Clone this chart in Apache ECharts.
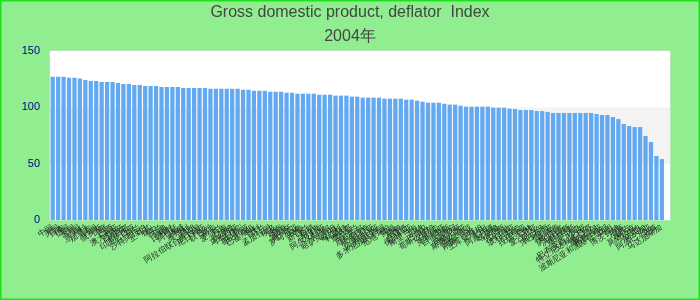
<!DOCTYPE html>
<html>
<head>
<meta charset="utf-8">
<script src="https://cdn.jsdelivr.net/npm/echarts@6/dist/echarts.min.js"></script>
<style>html,body{margin:0;padding:0;background:#90ee90;}#c{width:700px;height:300px;}</style>
</head>
<body>
<div id="c"></div>
<script>
var titleText = 'Gross domestic product, deflator  Index\n2004年';
var countries = ['中国','美国','日本','德国','英国','法国','意大利','加拿大','韩国','俄罗斯',
'印度','巴西','澳大利亚','西班牙','墨西哥','印度尼西亚','荷兰','沙特阿拉伯','土耳其','瑞士',
'波兰','瑞典','比利时','阿根廷','挪威','奥地利','伊朗','阿拉伯联合酋长国','尼日利亚','以色列',
'南非','爱尔兰','丹麦','新加坡','马来西亚','菲律宾','哥伦比亚','巴基斯坦','智利','芬兰',
'孟加拉国','埃及','越南','捷克','葡萄牙','罗马尼亚','秘鲁','新西兰','希腊','伊拉克',
'阿尔及利亚','卡塔尔','哈萨克斯坦','匈牙利','科威特','摩洛哥','乌克兰','厄瓜多尔','斯洛伐克','肯尼亚',
'埃塞俄比亚','多米尼加共和国','危地马拉','阿曼','缅甸','卢森堡','保加利亚','斯里兰卡','加纳','巴拿马',
'哥斯达黎加','乌拉圭','克罗地亚','白俄罗斯','立陶宛','坦桑尼亚','斯洛文尼亚','塞尔维亚','刚果（金）','土库曼斯坦',
'约旦','阿塞拜疆','喀麦隆','突尼斯','乌干达','玻利维亚','巴拉圭','拉脱维亚','巴林','爱沙尼亚',
'尼泊尔','津巴布韦','赞比亚','柬埔寨','萨尔瓦多','洪都拉斯','塞浦路斯','冰岛','巴布亚新几内亚','特立尼达和多巴哥',
'塞内加尔','格鲁吉亚','波斯尼亚和黑塞哥维那','马里','博茨瓦纳','加蓬','蒙古','莫桑比克','马耳他','牙买加',
'阿尔巴尼亚','文莱','马达加斯加'];
var values = [127.2,127.2,127.2,126.3,126.3,125.5,124.3,123.4,123.4,122.5,
122.5,122.5,121.6,120.7,120.7,119.8,119.8,118.9,118.9,118.9,
118.0,118.0,118.0,118.0,117.2,117.2,117.2,117.2,117.2,116.6,
116.6,116.6,116.6,116.6,116.6,115.7,115.7,114.8,114.8,114.8,
113.9,113.9,113.9,113.0,113.0,112.1,112.1,112.1,112.1,111.2,
111.2,111.2,110.4,110.4,110.4,109.5,109.5,108.6,108.6,108.6,
108.6,107.7,107.7,107.7,107.7,106.8,106.8,105.9,105.0,104.1,
104.1,104.1,103.2,102.4,102.4,101.5,100.6,100.6,100.6,100.6,
100.6,99.7,99.7,99.7,98.8,98.6,97.6,97.6,97.6,96.7,
96.7,95.9,95.0,95.0,95.0,95.0,95.0,95.0,95.0,95.0,
94.1,93.2,93.2,91.4,89.6,85.2,83.4,82.5,82.5,74.6,
69.2,56.8,54.1];
var yTicks = [0, 50, 100, 150];

var chart = echarts.init(document.getElementById('c'), null, {renderer:'canvas'});
chart.setOption({
  backgroundColor: '#90ee90',
  animation: false,
  title: {
    text: titleText, left: 'center', top: -4,
    textStyle: {fontSize: 16, fontWeight: 'normal', color: '#444', lineHeight: 24, fontFamily: 'Liberation Sans'}
  },
  graphic: [{type: 'rect', shape: {x: 0, y: 0, width: 700, height: 300}, style: {fill: 'none', stroke: '#1ee01e', lineWidth: 3}, z: 100}],
  grid: {left: 50, right: 30, top: 51, bottom: 80, show: true, backgroundColor: '#fff', borderColor: '#ddd', borderWidth: 1},
  xAxis: {
    type: 'category', data: countries.concat(['']),
    axisLine: {show: false}, axisTick: {show: false},
    axisLabel: {interval: 0, rotate: 32, fontSize: 8, color: '#222', margin: 7}
  },
  yAxis: {
    type: 'value', min: yTicks[0], max: yTicks[yTicks.length - 1], interval: 50,
    axisLine: {show: false}, axisTick: {show: false},
    axisLabel: {color: '#00008b', fontSize: 11, margin: 10},
    splitLine: {show: false},
    splitArea: {show: true, areaStyle: {color: ['#ffffff', '#f3f3f3']}}
  },
  series: [{type: 'bar', data: values, itemStyle: {color: '#62a9f2'}, barCategoryGap: '22%'}]
});
</script>
</body>
</html>
